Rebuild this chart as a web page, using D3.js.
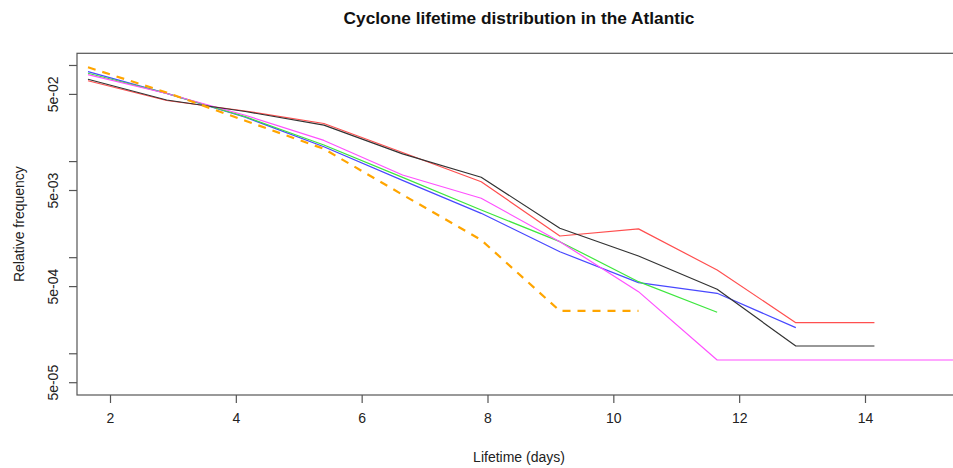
<!DOCTYPE html>
<html>
<head>
<meta charset="utf-8">
<script src="https://cdn.jsdelivr.net/npm/d3@7/dist/d3.min.js"></script>
<style>
  html, body { margin: 0; padding: 0; background: #fff; }
  svg { display: block; font-family: "Liberation Sans", Arial, Helvetica, sans-serif; }
</style>
</head>
<body>
<svg id="chart" width="953" height="468"></svg>
<script>
// Lifetime bins (days) shared by all series
const lifetimeDays = [1.65, 2.9, 4.15, 5.4, 6.65, 7.9, 9.15, 10.4, 11.65, 12.9, 14.15, 15.4];

// Relative frequency per lifetime bin for each series
const seriesBlack   = [0.0710, 0.0432, 0.0328, 0.0237, 0.0119, 0.00678, 0.00200, 0.00103, 0.000463, 0.000119, 0.000119];
const seriesRed     = [0.0686, 0.0427, 0.0332, 0.0246, 0.0123, 0.00610, 0.00166, 0.00197, 0.000736, 0.000208, 0.000208];
const seriesMagenta = [0.0793, 0.0505, 0.0300, 0.0164, 0.00717, 0.00410, 0.00145, 0.000438, 0.0000851, 0.0000851, 0.0000851, 0.0000851];
const seriesGreen   = [0.0820, 0.0507, 0.0290, 0.0147, 0.00677, 0.00310, 0.00145, 0.000556, 0.000267];
const seriesBlue    = [0.0852, 0.0507, 0.0286, 0.0141, 0.00630, 0.00286, 0.00114, 0.000543, 0.000421, 0.000185];
const seriesOrange  = [0.0946, 0.0517, 0.0263, 0.0134, 0.00447, 0.00151, 0.000276, 0.000276];

// Axis ticks
const xTicks = [2, 4, 6, 8, 10, 12, 14];
const yTicks = [1e-1, 5e-2, 1e-2, 5e-3, 1e-3, 5e-4, 1e-4, 5e-5];
const yTickLabels = ["", "5e-02", "", "5e-03", "", "5e-04", "", "5e-05"];

const titleText = "Cyclone lifetime distribution in the Atlantic";
const xLabel = "Lifetime (days)";
const yLabel = "Relative frequency";

const svg = d3.select("#chart");

// Plot box (right edge runs slightly past the visible area)
const box = { left: 77, top: 53.3, right: 961, bottom: 395 };

const x = d3.scaleLinear().domain([1.4755, 15.526]).range([box.left, box.right]);
const y = d3.scaleLog().domain([3.68e-5, 0.1323]).range([box.bottom, box.top]);

const series = [
  { values: seriesRed,     color: "#ff4f4f", width: 1.2, dash: null },
  { values: seriesBlue,    color: "#4848ff", width: 1.2, dash: null },
  { values: seriesGreen,   color: "#3ee63e", width: 1.2, dash: null },
  { values: seriesMagenta, color: "#ff50ff", width: 1.2, dash: null },
  { values: seriesBlack,   color: "#333333", width: 1.2, dash: null },
  { values: seriesOrange,  color: "#ffa500", width: 2.2, dash: "8,7" }
];

const clipId = "plotclip";
svg.append("defs").append("clipPath").attr("id", clipId)
  .append("rect")
  .attr("x", box.left).attr("y", box.top)
  .attr("width", box.right - box.left).attr("height", box.bottom - box.top);

const line = d3.line()
  .x((d, i) => x(lifetimeDays[i]))
  .y(d => y(d));

const lines = svg.append("g").attr("clip-path", `url(#${clipId})`);
series.forEach(s => {
  lines.append("path")
    .attr("d", line(s.values))
    .attr("fill", "none")
    .attr("stroke", s.color)
    .attr("stroke-width", s.width)
    .attr("stroke-linejoin", "round")
    .attr("stroke-dasharray", s.dash);
});

// Frame
svg.append("rect")
  .attr("x", box.left).attr("y", box.top)
  .attr("width", box.right - box.left).attr("height", box.bottom - box.top)
  .attr("fill", "none").attr("stroke", "#555").attr("stroke-width", 1.2);

// X axis
const xAxis = d3.axisBottom(x).tickValues(xTicks).tickSize(8).tickPadding(10)
  .tickFormat(d3.format("d"));
const gx = svg.append("g").attr("transform", `translate(0,${box.bottom})`).call(xAxis);
gx.select(".domain").remove();
gx.selectAll(".tick line").attr("stroke", "#555").attr("stroke-width", 1.2);
gx.selectAll(".tick text").attr("font-size", 14).attr("fill", "#222")
  .attr("font-family", "'Liberation Sans', Arial, sans-serif");

// Y axis
const yAxis = d3.axisLeft(y).tickValues(yTicks).tickSize(8)
  .tickFormat((d, i) => yTickLabels[i]);
const gy = svg.append("g").attr("transform", `translate(${box.left},0)`).call(yAxis);
gy.select(".domain").remove();
gy.selectAll(".tick line").attr("stroke", "#555").attr("stroke-width", 1.2);
gy.selectAll(".tick text")
  .attr("font-size", 14).attr("fill", "#222")
  .attr("font-family", "'Liberation Sans', Arial, sans-serif")
  .attr("x", null).attr("dy", null)
  .attr("text-anchor", "middle")
  .attr("transform", "translate(-19,0) rotate(-90)");

// Title and axis labels
svg.append("text")
  .attr("x", (box.left + box.right) / 2).attr("y", 24)
  .attr("text-anchor", "middle")
  .attr("font-size", 17.3).attr("font-weight", "bold").attr("fill", "#111")
  .text(titleText);

svg.append("text")
  .attr("x", (box.left + box.right) / 2).attr("y", 462)
  .attr("text-anchor", "middle")
  .attr("font-size", 14).attr("fill", "#222")
  .text(xLabel);

svg.append("text")
  .attr("transform", `translate(24,${(box.top + box.bottom) / 2}) rotate(-90)`)
  .attr("text-anchor", "middle")
  .attr("font-size", 14).attr("fill", "#222")
  .text(yLabel);
</script>
</body>
</html>
